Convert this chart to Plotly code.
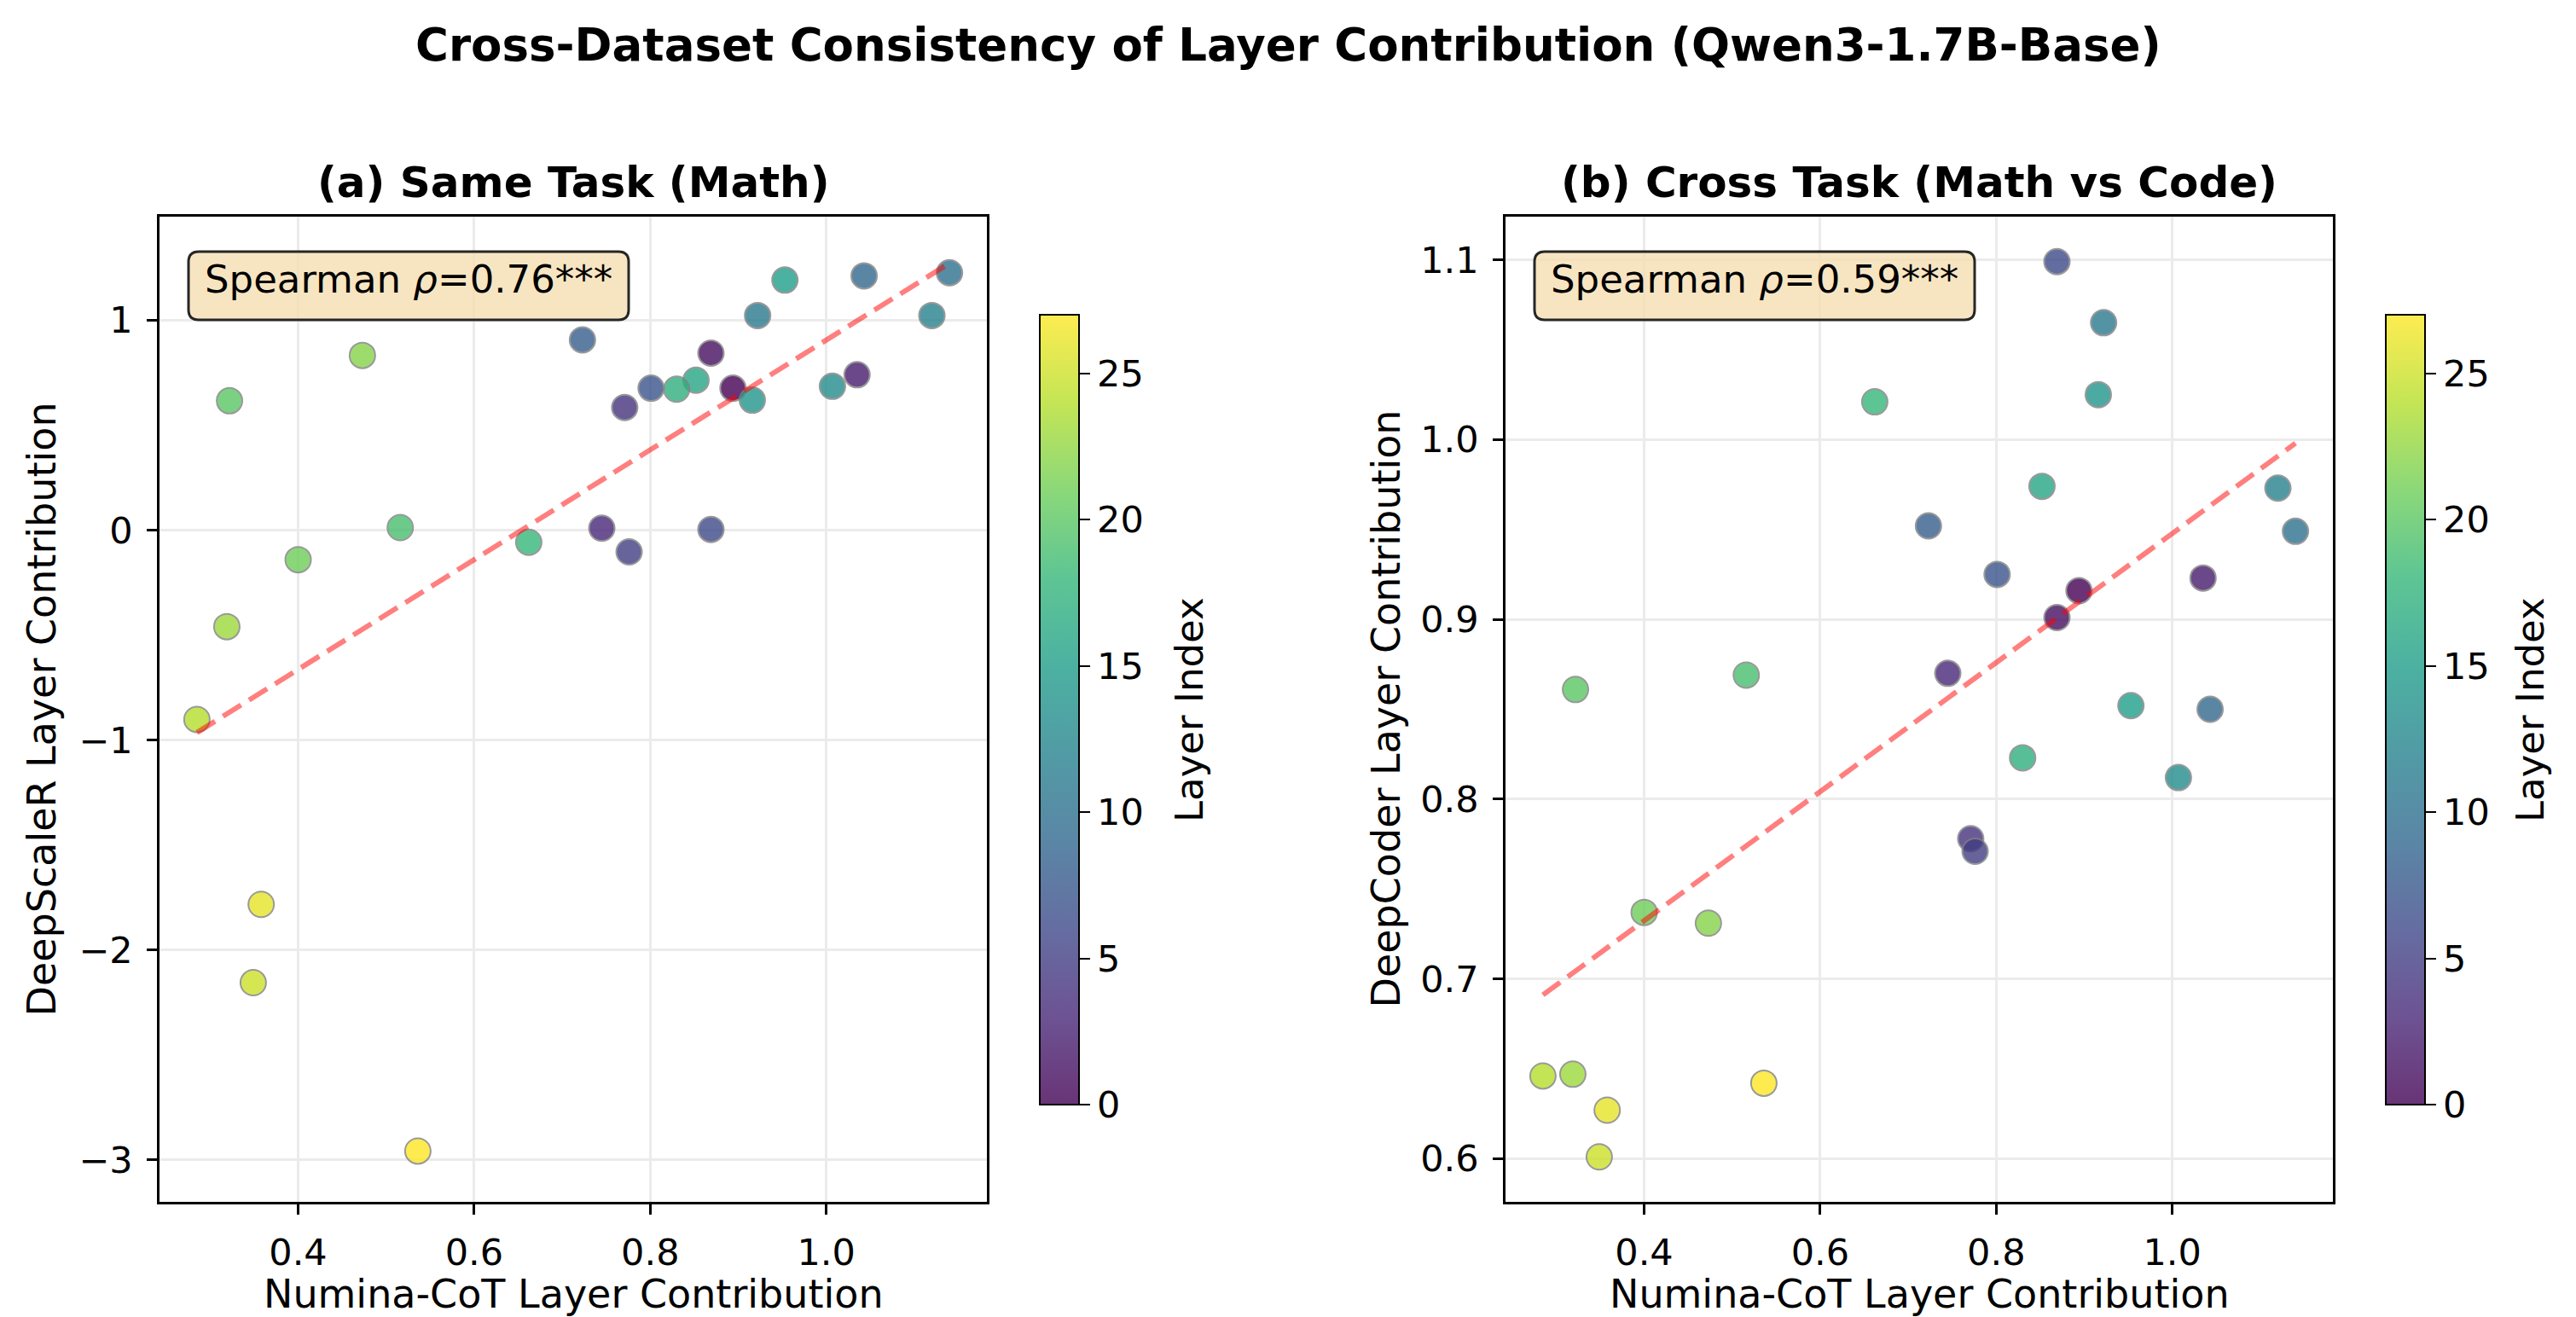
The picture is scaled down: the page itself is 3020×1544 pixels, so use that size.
import numpy as np
import plotly.graph_objects as go
from plotly.colors import sequential, hex_to_rgb

# ---------------- data (one value per layer) ----------------
layer_index = [0, 1, 2, 3, 4, 5, 6, 7, 8, 9, 10, 11, 12, 13,
               14, 15, 16, 17, 18, 19, 20, 21, 22, 23, 24, 25, 26, 27]
numina_cot = [0.894, 0.869, 1.035, 0.745, 0.771, 0.776, 0.869, 0.801, 0.723, 1.043,
              1.140, 0.922, 1.120, 1.007, 0.916, 0.953, 0.852, 0.830, 0.662, 0.516,
              0.322, 0.400, 0.473, 0.319, 0.285, 0.349, 0.358, 0.536]
deepscaler = [0.676, 0.843, 0.740, 0.009, 0.584, -0.104, 0.003, 0.676, 0.906, 1.211,
              1.226, 1.022, 1.022, 0.685, 0.619, 1.191, 0.714, 0.671, -0.058, 0.012,
              0.616, -0.141, 0.832, -0.460, -0.902, -2.156, -1.783, -2.958]
deepcoder = [0.916, 0.901, 0.923, 0.870, 0.778, 0.771, 1.099, 0.925, 0.952, 0.850,
             0.949, 1.065, 0.973, 0.812, 1.025, 0.852, 0.974, 0.823, 1.021, 0.869,
             0.861, 0.737, 0.731, 0.647, 0.646, 0.601, 0.627, 0.642]
spearman_labels = ["Spearman <i>ρ</i>=0.76***", "Spearman <i>ρ</i>=0.59***"]
panel_titles = ["<b>(a) Same Task (Math)</b>", "<b>(b) Cross Task (Math vs Code)</b>"]
y_titles = ["DeepScaleR Layer Contribution", "DeepCoder Layer Contribution"]
x_title = "Numina-CoT Layer Contribution"
suptitle = "<b>Cross-Dataset Consistency of Layer Contribution (Qwen3-1.7B-Base)</b>"

W, H = 3020, 1544
FONT = "DejaVu Sans"


def px(x):
    return x / W


def py(y):
    return 1 - y / H


# viridis blended with white (alpha 0.8) for colorbar
vir = sequential.Viridis
n = len(vir)
blended = []
for i, c in enumerate(vir):
    r, g, b = hex_to_rgb(c)
    r = 0.8 * r + 0.2 * 255
    g = 0.8 * g + 0.2 * 255
    b = 0.8 * b + 0.2 * 255
    blended.append([i / (n - 1), f"rgb({r:.0f},{g:.0f},{b:.0f})"])

fig = go.Figure()

panels = [
    dict(y=deepscaler, xa="x", ya="y", left=187, right=1157, cbx=1219, ytitle_x=48, lbl_x=1394),
    dict(y=deepcoder, xa="x2", ya="y2", left=1765, right=2735, cbx=2797, ytitle_x=1624, lbl_x=2966),
]
top, bottom = 254, 1409
cb_top, cb_bot = 369, 1295

annotations = []
shapes = []
for k, p in enumerate(panels):
    fig.add_trace(go.Scatter(
        x=numina_cot, y=p["y"], mode="markers", xaxis=p["xa"], yaxis=p["ya"],
        marker=dict(size=30, color=layer_index, colorscale="Viridis", cmin=0, cmax=27,
                    opacity=0.8, line=dict(color="gray", width=2), showscale=False),
        showlegend=False))
    # regression line
    xs = np.array(numina_cot)
    ys = np.array(p["y"])
    slope, intercept = np.polyfit(xs, ys, 1)
    xl = np.array([xs.min(), xs.max()])
    fig.add_trace(go.Scatter(
        x=xl, y=slope * xl + intercept, mode="lines", xaxis=p["xa"], yaxis=p["ya"],
        line=dict(color="rgba(255,0,0,0.5)", width=6, dash="25px,11px"),
        showlegend=False))
    # colorbar carrier
    fig.add_trace(go.Scatter(
        x=[None], y=[None], mode="markers", xaxis=p["xa"], yaxis=p["ya"],
        marker=dict(color=[0], cmin=0, cmax=27, colorscale=blended, showscale=True,
                    colorbar=dict(
                        x=px(p["cbx"]), xanchor="left", xpad=0, ypad=0,
                        y=py((cb_top + cb_bot) / 2), yanchor="middle",
                        len=cb_bot - cb_top, lenmode="pixels", thickness=46,
                        outlinewidth=2, outlinecolor="black",
                        ticks="outside", ticklen=12, tickwidth=2, tickcolor="black",
                        tickvals=[0, 5, 10, 15, 20, 25],
                        tickfont=dict(family=FONT, size=43, color="black"))),
        showlegend=False, hoverinfo="skip"))

    cx = (p["left"] + p["right"]) / 2
    # panel title
    annotations.append(dict(text=panel_titles[k], x=px(cx), y=py(214), xref="paper", yref="paper",
                            showarrow=False, xanchor="center", yanchor="middle",
                            font=dict(family=FONT, size=50, color="black")))
    # x axis title
    annotations.append(dict(text=x_title, x=px(cx), y=py(1517), xref="paper", yref="paper",
                            showarrow=False, xanchor="center", yanchor="middle",
                            font=dict(family=FONT, size=46, color="black")))
    # y axis title
    annotations.append(dict(text=y_titles[k], x=px(p["ytitle_x"]), y=py((top + bottom) / 2),
                            xref="paper", yref="paper", showarrow=False, textangle=-90,
                            xanchor="center", yanchor="middle",
                            font=dict(family=FONT, size=46, color="black")))
    # colorbar title
    annotations.append(dict(text="Layer Index", x=px(p["lbl_x"]), y=py((cb_top + cb_bot) / 2),
                            xref="paper", yref="paper", showarrow=False, textangle=-90,
                            xanchor="center", yanchor="middle",
                            font=dict(family=FONT, size=45, color="black")))
    # spearman box (rounded rect)
    bx0, bx1 = p["left"] + 34, p["left"] + 550
    by0, by1 = 295, 375
    r = 12
    path = (f"M {px(bx0 + r)},{py(by0)} L {px(bx1 - r)},{py(by0)} "
            f"Q {px(bx1)},{py(by0)} {px(bx1)},{py(by0 + r)} "
            f"L {px(bx1)},{py(by1 - r)} Q {px(bx1)},{py(by1)} {px(bx1 - r)},{py(by1)} "
            f"L {px(bx0 + r)},{py(by1)} Q {px(bx0)},{py(by1)} {px(bx0)},{py(by1 - r)} "
            f"L {px(bx0)},{py(by0 + r)} Q {px(bx0)},{py(by0)} {px(bx0 + r)},{py(by0)} Z")
    shapes.append(dict(type="path", path=path, xref="paper", yref="paper",
                       fillcolor="rgba(245,222,179,0.8)", line=dict(color="#262626", width=3),
                       layer="above"))
    annotations.append(dict(text=spearman_labels[k], x=px((bx0 + bx1) / 2), y=py((by0 + by1) / 2 - 7),
                            xref="paper", yref="paper", showarrow=False,
                            xanchor="center", yanchor="middle",
                            font=dict(family=FONT, size=45, color="black")))

annotations.append(dict(text=suptitle, x=0.5, y=py(52), xref="paper", yref="paper",
                        showarrow=False, xanchor="center", yanchor="middle",
                        font=dict(family=FONT, size=53, color="black")))

axis_common = dict(showline=True, linecolor="black", linewidth=2.5, mirror=True,
                   ticks="outside", ticklen=12, tickwidth=2.5, tickcolor="black",
                   showgrid=True, gridcolor="#ebebeb", gridwidth=3, zeroline=False,
                   tickfont=dict(family=FONT, size=43, color="black"), ticklabelstandoff=8)

fig.update_layout(
    width=W, height=H, autosize=False,
    margin=dict(l=0, r=0, t=0, b=0),
    paper_bgcolor="white", plot_bgcolor="white",
    font=dict(family=FONT, color="black"),
    xaxis=dict(domain=[px(187), px(1157)], range=[0.2425, 1.1825], tickvals=[0.4, 0.6, 0.8, 1.0],
               tickformat=".1f", anchor="y", **axis_common),
    yaxis=dict(domain=[py(1409), py(254)], range=[-3.20, 1.493], tickvals=[-3, -2, -1, 0, 1],
               anchor="x", **axis_common),
    xaxis2=dict(domain=[px(1765), px(2735)], range=[0.2425, 1.1825], tickvals=[0.4, 0.6, 0.8, 1.0],
                tickformat=".1f", anchor="y2", **axis_common),
    yaxis2=dict(domain=[py(1409), py(254)], range=[0.576, 1.124],
                tickvals=[0.6, 0.7, 0.8, 0.9, 1.0, 1.1], tickformat=".1f", anchor="x2", **axis_common),
    annotations=annotations,
    shapes=shapes,
)

fig.write_html("out.html")
